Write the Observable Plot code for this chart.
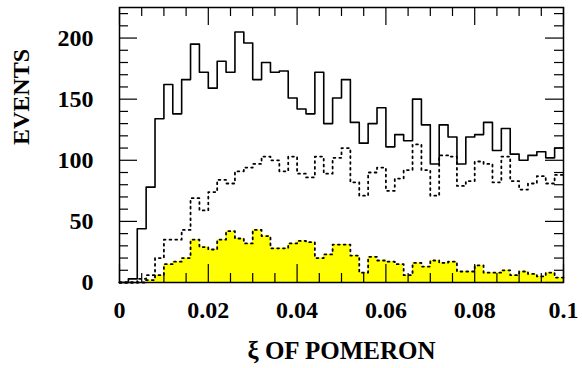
<!DOCTYPE html>
<html><head><meta charset="utf-8">
<script src="https://cdn.jsdelivr.net/npm/d3@7"></script>
<script src="https://cdn.jsdelivr.net/npm/@observablehq/plot@0.6"></script>
<style>html,body{margin:0;padding:0;background:#fff}</style>
</head><body><div id="chart"></div>
<script>
// bin edges of ξ (bin width 0.002)
const binEdges = [0,0.002,0.004,0.006,0.008,0.01,0.012,0.014,0.016,0.018,
  0.02,0.022,0.024,0.026,0.028,0.03,0.032,0.034,0.036,0.038,
  0.04,0.042,0.044,0.046,0.048,0.05,0.052,0.054,0.056,0.058,
  0.06,0.062,0.064,0.066,0.068,0.07,0.072,0.074,0.076,0.078,
  0.08,0.082,0.084,0.086,0.088,0.09,0.092,0.094,0.096,0.098,0.1];
// solid histogram (all events)
const totalEvents = [0,3,44,78,134,162,138,166,195,172,
  159,181,172,205,196,166,180,172,173,151,
  142,138,172,130,151,166,131,114,130,143,
  111,121,116,150,129,97,129,119,97,119,
  121,131,108,126,105,100,104,107,102,110];
// dotted histogram
const dottedEvents = [0,0,3,6,20,35,35,43,69,59,
  74,84,81,91,94,97,103,100,91,103,
  89,86,103,89,102,110,82,71,90,94,
  75,85,92,113,92,71,104,103,79,83,
  99,97,82,103,83,76,81,87,81,88];
// yellow filled histogram
const filledEvents = [0,0,0,2,6,15,17,20,35,29,
  27,35,42,36,32,43,38,28,28,32,
  34,33,20,23,31,31,22,8,21,18,
  17,15,6,16,13,18,16,17,9,9,
  14,8,8,10,6,9,7,5,8,4];

const xMajorTicks = [0,0.02,0.04,0.06,0.08,0.1];
const xMinorTicks = [0.005,0.01,0.015,0.025,0.03,0.035,0.045,0.05,0.055,0.065,0.07,0.075,0.085,0.09,0.095];
const yMajorTicks = [0,50,100,150,200];
const yMinorTicks = [10,20,30,40,60,70,80,90,110,120,130,140,160,170,180,190,210,220];
const xLabel = "ξ OF POMERON";
const yLabel = "EVENTS";

const steps = vals => vals.map((v,i)=>({x: binEdges[i], y: v}))
  .concat([{x: binEdges[binEdges.length-1], y: vals[vals.length-1]}]);

const W = 582, H = 368, mL = 119, mR = 19, mT = 7, mB = 86;
const fw = W - mL - mR, fh = H - mT - mB;
const font = "Liberation Serif, Times New Roman, serif";
const dots = {stroke: "black", strokeWidth: 1.8, strokeDasharray: "1.8,4", curve: "step-after"};

const chart = Plot.plot({
  width: W, height: H,
  marginLeft: mL, marginRight: mR, marginTop: mT, marginBottom: mB,
  style: {fontFamily: font, fontWeight: "bold", fontSize: "24px", background: "white"},
  x: {domain: [0, 0.1]},
  y: {domain: [0, 225]},
  marks: [
    Plot.areaY(steps(filledEvents), {x: "x", y: "y", fill: "#ffff00", curve: "step-after"}),
    Plot.line(steps(filledEvents), {x: "x", y: "y", ...dots}),
    Plot.line(steps(dottedEvents), {x: "x", y: "y", ...dots}),
    Plot.line(steps(totalEvents), {x: "x", y: "y", stroke: "black", strokeWidth: 1.6, curve: "step-after"}),
    // inward ticks on all four sides
    Plot.tickX(xMajorTicks, {x: d => d, insetTop: fh - 18, stroke: "black", strokeWidth: 1.2}),
    Plot.tickX(xMajorTicks, {x: d => d, insetBottom: fh - 18, stroke: "black", strokeWidth: 1.2}),
    Plot.tickX(xMinorTicks, {x: d => d, insetTop: fh - 9, stroke: "black", strokeWidth: 1.2}),
    Plot.tickX(xMinorTicks, {x: d => d, insetBottom: fh - 9, stroke: "black", strokeWidth: 1.2}),
    Plot.tickY(yMajorTicks, {y: d => d, insetRight: fw - 18, stroke: "black", strokeWidth: 1.2}),
    Plot.tickY(yMajorTicks, {y: d => d, insetLeft: fw - 18, stroke: "black", strokeWidth: 1.2}),
    Plot.tickY(yMinorTicks, {y: d => d, insetRight: fw - 9, stroke: "black", strokeWidth: 1.2}),
    Plot.tickY(yMinorTicks, {y: d => d, insetLeft: fw - 9, stroke: "black", strokeWidth: 1.2}),
    Plot.frame({stroke: "black", strokeWidth: 1.5}),
    Plot.axisX(xMajorTicks, {tickSize: 0, tickPadding: 18, tickFormat: d => String(d), label: null,
      fontSize: 24, fontWeight: "bold", fontFamily: font, fill: "black"}),
    Plot.axisY(yMajorTicks, {tickSize: 0, tickPadding: 26, tickFormat: d => String(d), label: null,
      fontSize: 24, fontWeight: "bold", fontFamily: font, fill: "black"}),
    Plot.text([xLabel], {frameAnchor: "bottom", dy: 76, text: d => d,
      fontSize: 25, fontWeight: "bold", fontFamily: font, fill: "black"}),
    Plot.text([yLabel], {frameAnchor: "left", dx: -98, rotate: -90, text: d => d,
      fontSize: 24, fontWeight: "bold", fontFamily: font, fill: "black"})
  ]
});
document.getElementById("chart").appendChild(chart);
</script>
</body></html>
